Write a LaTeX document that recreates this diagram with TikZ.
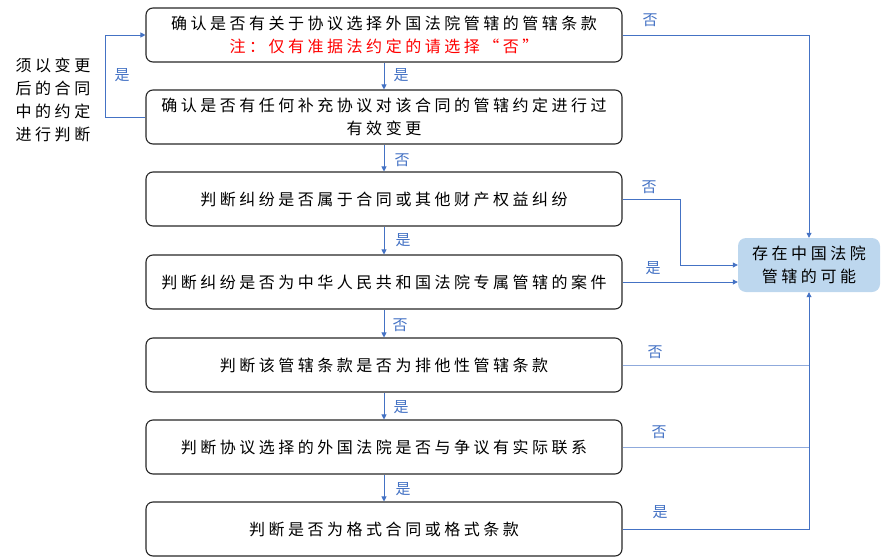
\documentclass[tikz,border=0pt]{standalone}
\usepackage{fontspec}
\usetikzlibrary{arrows.meta}
\newfontfamily\cjk[LetterSpace=22]{Noto Sans CJK SC}
\newfontfamily\cjklab{Noto Sans CJK SC}
\definecolor{arrowblue}{HTML}{4472C4}
\definecolor{lineblue}{HTML}{8FAADC}
\definecolor{boxfill}{HTML}{BDD7EE}
\definecolor{noteRed}{HTML}{FF0000}
\tikzset{
  stepbox/.style={draw=black!85, line width=1.1pt, rounded corners=7pt, minimum width=476pt, minimum height=54pt, align=center, inner sep=2pt, font=\cjk\fontsize{16}{23}\selectfont},
  resultbox/.style={fill=boxfill, draw=none, rounded corners=8pt, minimum width=142pt, minimum height=54pt, align=center, font=\cjk\fontsize{16}{23}\selectfont},
  sidetext/.style={align=center, font=\cjk\fontsize{16}{23}\selectfont},
  lab/.style={text=arrowblue, font=\cjklab\fontsize{15}{15}\selectfont, inner sep=0pt},
  arr/.style={draw=arrowblue, line width=0.8pt, -{Triangle[length=5pt,width=5pt]}},
  plain/.style={draw=lineblue, line width=1pt}
}
\begin{document}
\begin{tikzpicture}[x=1pt,y=-1pt]
\useasboundingbox (0,0) rectangle (881,557);
\node[stepbox] (b1) at (384,35) {确认是否有关于协议选择外国法院管辖的管辖条款\\\textcolor{noteRed}{注：仅有准据法约定的请选择“否”}};
\node[stepbox] (b2) at (384,117) {确认是否有任何补充协议对该合同的管辖约定进行过\\有效变更};
\node[stepbox] (b3) at (384,199) {判断纠纷是否属于合同或其他财产权益纠纷};
\node[stepbox] (b4) at (384,282) {判断纠纷是否为中华人民共和国法院专属管辖的案件};
\node[stepbox] (b5) at (384,365) {判断该管辖条款是否为排他性管辖条款};
\node[stepbox] (b6) at (384,447) {判断协议选择的外国法院是否与争议有实际联系};
\node[stepbox] (b7) at (384,529) {判断是否为格式合同或格式条款};
\node[resultbox] (r) at (809,265) {存在中国法院\\管辖的可能};
\node[sidetext] (side) at (53,100) {须以变更\\后的合同\\中的约定\\进行判断};

% vertical flow
\draw[arr] (b1.south) -- (b2.north);
\draw[arr] (b2.south) -- (b3.north);
\draw[arr] (b3.south) -- (b4.north);
\draw[arr] (b4.south) -- (b5.north);
\draw[arr] (b5.south) -- (b6.north);
\draw[arr] (b6.south) -- (b7.north);
\node[lab] (l12) at (401,75) {是};
\node[lab] (l23) at (402,160) {否};
\node[lab] (l34) at (403,240) {是};
\node[lab] (l45) at (400,325) {否};
\node[lab] (l56) at (401,407) {是};
\node[lab] (l67) at (403,489) {是};

% left loop
\coordinate (lp) at (105,117);
\draw[arr] (b2.west) -- (lp) |- (b1.west);
\node[lab] (lloop) at (122,75) {是};

% right connections
\draw[arr] (b1.east) -| (r.north);
\node[lab] (lr1) at (650,20) {否};
\coordinate (k3) at (680,199);
\draw[arr] (b3.east) -- (k3) |- (r.west);
\node[lab] (lr3) at (649,187) {否};
\draw[arr] (b4.east) -- (r.west |- b4.east);
\node[lab] (lr4) at (653,268) {是};
\draw[plain] (b5.east) -- (b5.east -| r.south);
\node[lab] (lr5) at (655,352) {否};
\draw[plain] (b6.east) -- (b6.east -| r.south);
\node[lab] (lr6) at (659,432) {否};
\draw[arr] (b7.east) -| (r.south);
\node[lab] (lr7) at (660,512) {是};
\end{tikzpicture}
\end{document}
